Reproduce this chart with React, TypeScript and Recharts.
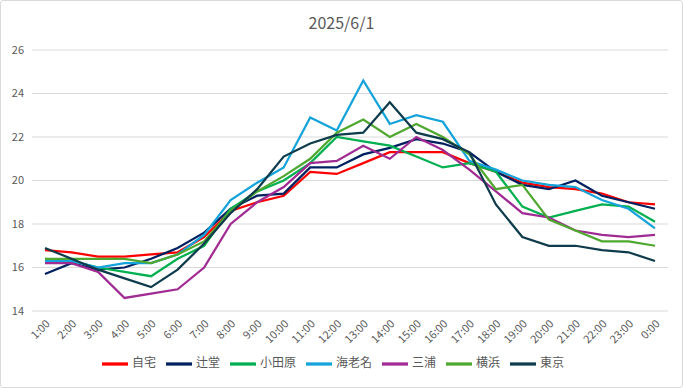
import React from "react";
import { LineChart, Line, XAxis, YAxis, CartesianGrid, Legend } from "recharts";

const hours = ["1:00", "2:00", "3:00", "4:00", "5:00", "6:00", "7:00", "8:00", "9:00", "10:00", "11:00", "12:00",
    "13:00", "14:00", "15:00", "16:00", "17:00", "18:00", "19:00", "20:00", "21:00", "22:00", "23:00", "0:00"];

const jitaku = [16.8, 16.7, 16.5, 16.5, 16.6, 16.7, 17.4, 18.6, 19.0, 19.3, 20.4, 20.3, 20.8, 21.3, 21.3, 21.3, 20.8, 20.4, 19.9, 19.7, 19.6, 19.4, 19.0, 18.9];
const tsujido = [15.7, 16.2, 15.9, 16.0, 16.4, 16.9, 17.6, 18.7, 19.3, 19.4, 20.6, 20.6, 21.2, 21.5, 21.9, 21.7, 21.3, 20.4, 19.8, 19.6, 20.0, 19.3, 19.0, 18.7];
const odawara = [16.4, 16.3, 16.0, 15.8, 15.6, 16.4, 17.0, 18.7, 19.5, 20.0, 20.8, 22.0, 21.8, 21.6, 21.1, 20.6, 20.8, 20.4, 18.8, 18.3, 18.6, 18.9, 18.8, 18.1];
const ebina = [16.3, 16.3, 16.0, 16.2, 16.2, 16.6, 17.5, 19.1, 19.9, 20.6, 22.9, 22.3, 24.6, 22.6, 23.0, 22.7, 20.9, 20.5, 20.0, 19.8, 19.7, 19.1, 18.7, 17.8];
const miura = [16.2, 16.2, 15.8, 14.6, 14.8, 15.0, 16.0, 18.0, 19.0, 19.7, 20.8, 20.9, 21.6, 21.0, 22.0, 21.4, 20.5, 19.5, 18.5, 18.3, 17.7, 17.5, 17.4, 17.5];
const yokohama = [16.4, 16.4, 16.4, 16.4, 16.2, 16.6, 17.2, 18.6, 19.5, 20.2, 21.0, 22.2, 22.8, 22.0, 22.6, 22.0, 21.2, 19.6, 19.8, 18.2, 17.7, 17.2, 17.2, 17.0];
const tokyo = [16.9, 16.4, 15.9, 15.5, 15.1, 15.9, 17.1, 18.5, 19.6, 21.1, 21.7, 22.1, 22.2, 23.6, 22.2, 21.9, 21.3, 18.9, 17.4, 17.0, 17.0, 16.8, 16.7, 16.3];

const seriesNames = ["自宅", "辻堂", "小田原", "海老名", "三浦", "横浜", "東京"];
const seriesValues = [jitaku, tsujido, odawara, ebina, miura, yokohama, tokyo];
const yTicks = [14, 16, 18, 20, 22, 24, 26];

const COLORS = ["#ff0000", "#002060", "#00b050", "#14a3da", "#a02b93", "#4ea72e", "#0f3c4c"];
const FONT = "'Noto Sans CJK JP', 'Noto Sans', sans-serif";
const TEXT = "#595959";

const data = hours.map((h, i) => {
    const row: Record<string, string | number> = { hour: h };
    seriesNames.forEach((name, s) => { row[name] = seriesValues[s][i]; });
    return row;
});

export default function App() {
    return (
        <div style={{ position: "fixed", left: 0, top: 0, width: 683, height: 388, background: "#fff", fontFamily: FONT }}>
            <div style={{ position: "absolute", inset: 0, border: "1px solid #d9d9d9", borderRadius: 3, boxSizing: "border-box", pointerEvents: "none" }} />
            <div style={{ position: "absolute", top: 10, left: 0, width: 683, textAlign: "center", fontSize: 16, color: TEXT }}>
                2025/6/1
            </div>
            <LineChart width={683} height={388} data={data} margin={{ top: 50, right: 15, left: 8, bottom: 11 }}>
                <CartesianGrid vertical={false} stroke="#d9d9d9" />
                <XAxis
                    dataKey="hour"
                    interval={0}
                    axisLine={false}
                    tickLine={false}
                    padding={{ left: 13, right: 13 }}
                    height={40}
                    angle={-45}
                    textAnchor="end"
                    tick={{ fontSize: 11, fill: TEXT, fontFamily: FONT }}
                />
                <YAxis
                    domain={[14, 26]}
                    ticks={yTicks}
                    width={24}
                    axisLine={false}
                    tickLine={false}
                    tick={{ fontSize: 11, fill: TEXT, fontFamily: FONT }}
                />
                <Legend
                    verticalAlign="bottom"
                    iconType="plainline"
                    iconSize={26}
                    itemSorter={(item: any) => seriesNames.indexOf(item.value)}
                    wrapperStyle={{ fontSize: 12, fontFamily: FONT, color: TEXT }}
                    formatter={(value: any) => <span style={{ color: TEXT }}>{value}</span>}
                />
                {seriesNames.map((name, i) => (
                    <Line
                        key={name}
                        type="linear"
                        dataKey={name}
                        stroke={COLORS[i]}
                        strokeWidth={2.25}
                        dot={false}
                        isAnimationActive={false}
                    />
                ))}
            </LineChart>
        </div>
    );
}
